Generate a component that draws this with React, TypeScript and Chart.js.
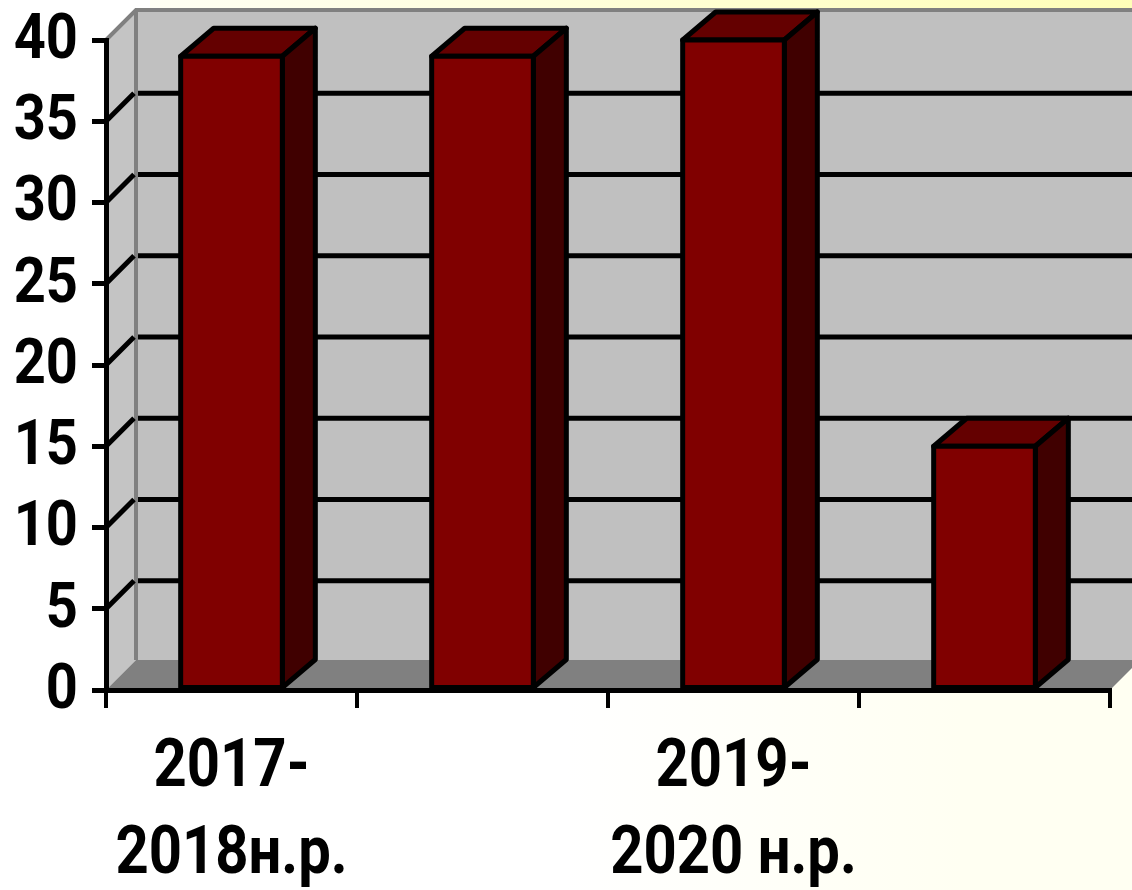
import React, { useEffect, useRef } from "react";
import { Chart, registerables } from "chart.js";

Chart.register(...registerables);

const categories = [["2017-", "2018н.р."], "", ["2019-", "2020 н.р."], ""];
const values = [39, 39, 40, 15];
const yMax = 40;
const yStep = 5;

const FONT = "Roboto, 'Liberation Sans', sans-serif";
const BLACK = "#000000";
const WALL_DX = 30;
const WALL_DY = 30;
const BAR_DX = 33;
const BAR_DY = 28;
const TEXT_STRETCH_Y = 1.14;
const TEXT_SHIFT_Y = 2;

const polygon = (ctx: CanvasRenderingContext2D, pts: number[][], fill: string, stroke?: string, lw = 5) => {
  ctx.beginPath();
  pts.forEach(([x, y], i) => (i ? ctx.lineTo(x, y) : ctx.moveTo(x, y)));
  ctx.closePath();
  ctx.fillStyle = fill;
  ctx.fill();
  if (stroke) {
    ctx.strokeStyle = stroke;
    ctx.lineWidth = lw;
    ctx.lineJoin = "round";
    ctx.stroke();
  }
};

const scene3d = {
  id: "scene3d",
  beforeDraw(chart: any) {
    const { ctx, width, height, scales } = chart;
    const l = scales.x.left, r = scales.x.right;
    const y0 = scales.y.getPixelForValue(0), yT = scales.y.getPixelForValue(yMax);
    ctx.save();
    const bg = ctx.createLinearGradient(0, 0, width, 0);
    bg.addColorStop(0, "#ffffff");
    bg.addColorStop(0.5, "#ffffff");
    bg.addColorStop(0.85, "#fffff2");
    bg.addColorStop(1, "#fffff2");
    ctx.fillStyle = bg;
    ctx.fillRect(0, 0, width, height);
    const tg = ctx.createLinearGradient(150, 0, width, 0);
    tg.addColorStop(0, "#fffff4");
    tg.addColorStop(1, "#ffffb8");
    ctx.fillStyle = tg;
    ctx.fillRect(150, 0, width - 150, 12);

    const bx = l + WALL_DX, by0 = y0 - WALL_DY, byT = yT - WALL_DY;
    polygon(ctx, [[bx, byT], [r + WALL_DX, byT], [r + WALL_DX, by0], [bx, by0]], "#c0c0c0");
    polygon(ctx, [[l, yT], [bx, byT], [bx, by0], [l, y0]], "#c4c4c4");
    polygon(ctx, [[l, y0], [bx, by0], [r + WALL_DX, by0], [r, y0]], "#808080");

    ctx.strokeStyle = "#808080";
    ctx.lineWidth = 4;
    ctx.beginPath();
    ctx.moveTo(l, yT);
    ctx.lineTo(bx, byT);
    ctx.lineTo(width, byT);
    ctx.moveTo(bx, byT);
    ctx.lineTo(bx, by0);
    ctx.stroke();

    ctx.strokeStyle = BLACK;
    ctx.lineWidth = 5;
    scales.y.ticks.forEach((t: any) => {
      if (t.value === 0 || t.value === yMax) return;
      const y = scales.y.getPixelForValue(t.value);
      ctx.beginPath();
      ctx.moveTo(l, y);
      ctx.lineTo(bx - 2, y - WALL_DY + 2);
      ctx.moveTo(bx + 2, y - WALL_DY + 2);
      ctx.lineTo(width, y - WALL_DY + 2);
      ctx.stroke();
    });
    ctx.restore();

    // The reference lettering is taller than any installed face: stretch it vertically.
    const orig = ctx.fillText;
    ctx.fillText = function (text: string, x: number, y: number, maxWidth?: number) {
      ctx.save();
      ctx.translate(x, y + TEXT_SHIFT_Y);
      ctx.scale(1, TEXT_STRETCH_Y);
      if (maxWidth === undefined) orig.call(ctx, text, 0, 0);
      else orig.call(ctx, text, 0, 0, maxWidth);
      ctx.restore();
    };
  },
  beforeDatasetsDraw(chart: any) {
    const { ctx } = chart;
    ctx.save();
    chart.getDatasetMeta(0).data.forEach((b: any) => {
      const x1 = b.x - b.width / 2, x2 = b.x + b.width / 2;
      const yt = b.y, yb = b.base;
      polygon(ctx, [[x1, yt], [x1 + BAR_DX, yt - BAR_DY], [x2 + BAR_DX, yt - BAR_DY], [x2, yt]], "#640000", BLACK);
      polygon(ctx, [[x2, yt], [x2 + BAR_DX, yt - BAR_DY], [x2 + BAR_DX, yb - BAR_DY], [x2, yb]], "#400000", BLACK);
    });
    ctx.restore();
  },
  afterDatasetsDraw(chart: any) {
    const { ctx } = chart;
    ctx.save();
    ctx.strokeStyle = BLACK;
    ctx.lineWidth = 5;
    ctx.lineJoin = "round";
    chart.getDatasetMeta(0).data.forEach((b: any) => {
      ctx.strokeRect(b.x - b.width / 2, b.y, b.width, b.base - b.y);
    });
    ctx.restore();
  },
  afterDraw(chart: any) {
    delete chart.ctx.fillText;
  },
};

export default function App() {
  const ref = useRef<HTMLCanvasElement>(null);
  useEffect(() => {
    const chart = new Chart(ref.current!, {
      type: "bar",
      data: {
        labels: categories as any,
        datasets: [
          {
            data: values,
            backgroundColor: "#800000",
            borderWidth: 0,
            categoryPercentage: 1,
            barPercentage: 0.405,
          },
        ],
      },
      options: {
        responsive: false,
        animation: false,
        layout: { autoPadding: false, padding: { top: 40, right: 22, left: 0, bottom: 0 } },
        plugins: { legend: { display: false }, tooltip: { enabled: false } },
        scales: {
          x: {
            afterFit: (s: any) => { s.height = 200; s.paddingLeft = 0; s.paddingRight = 0; },
            border: { color: BLACK, width: 5 },
            grid: { color: BLACK, lineWidth: 4, drawOnChartArea: false, tickLength: 18, tickColor: BLACK },
            ticks: {
              autoSkip: false,
              maxRotation: 0,
              minRotation: 0,
              padding: 16,
              color: BLACK,
              font: { family: FONT, size: 58, weight: "bold", lineHeight: 1.5 },
            },
          },
          y: {
            min: 0,
            max: yMax,
            afterFit: (s: any) => { s.width = 106; s.paddingTop = 0; s.paddingBottom = 0; },
            border: { color: BLACK, width: 5 },
            grid: { color: BLACK, lineWidth: 5, drawOnChartArea: false, tickLength: 14, tickColor: BLACK },
            ticks: {
              stepSize: yStep,
              padding: 14,
              color: BLACK,
              font: { family: FONT, size: 56, weight: "bold", lineHeight: 1 },
            },
          },
        },
      },
      plugins: [scene3d],
    } as any);
    return () => chart.destroy();
  }, []);
  return (
    <canvas
      ref={ref}
      width={1132}
      height={890}
      style={{ position: "fixed", left: 0, top: 0, display: "block" }}
    />
  );
}
